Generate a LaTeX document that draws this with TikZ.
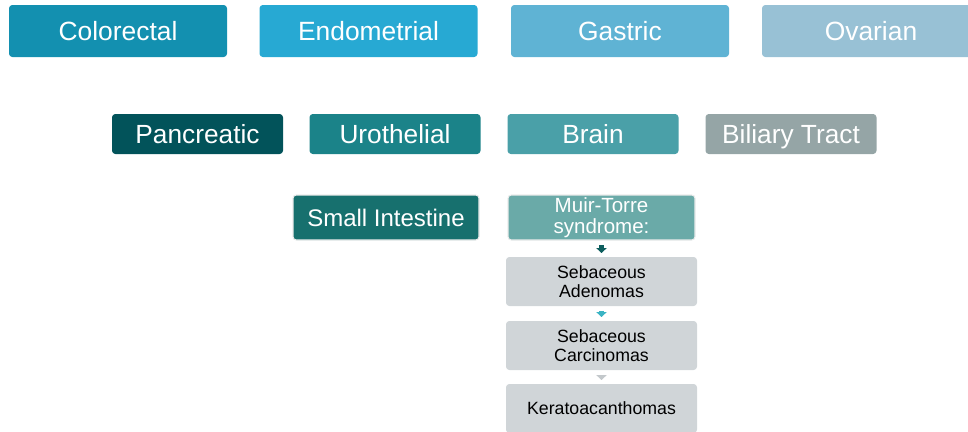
\documentclass[tikz,border=0pt]{standalone}
\usepackage{fontspec}
\setmainfont{Liberation Sans}
\usepackage{tikz}
\usetikzlibrary{arrows.meta}
\definecolor{colblue}{HTML}{1390B0}
\definecolor{endblue}{HTML}{27A9D3}
\definecolor{gasblue}{HTML}{5FB3D4}
\definecolor{ovablue}{HTML}{98C1D5}
\definecolor{panteal}{HTML}{02535A}
\definecolor{uroteal}{HTML}{1B8389}
\definecolor{braiteal}{HTML}{4AA0A8}
\definecolor{bilgray}{HTML}{95A5A6}
\definecolor{smiteal}{HTML}{17706E}
\definecolor{mtteal}{HTML}{6AAAA8}
\definecolor{sebgray}{HTML}{D0D5D8}
\definecolor{arrdark}{HTML}{0E5E5E}
\definecolor{arrlight}{HTML}{3BB4C4}
\definecolor{arrgray}{HTML}{C3C8CB}

\begin{document}
\begin{tikzpicture}[x=0.75pt,y=-0.75pt,
  site/.style={rounded corners=2.5pt,inner sep=0pt,text=white,align=center},
  toprow/.style={site,minimum width=163.5pt,minimum height=39pt,text height=14.2pt,text depth=0pt,
    font=\fontsize{19.8}{22}\selectfont},
  midrow/.style={site,minimum width=128.25pt,minimum height=30pt,text height=14.1pt,text depth=0pt,
    font=\fontsize{19.7}{22}\selectfont},
  framed/.style={draw=black!8,line width=0.8pt},
  lesion/.style={rounded corners=2.5pt,inner sep=0pt,fill=sebgray,text=black,align=center,
    minimum width=143.25pt,minimum height=36.75pt,font=\fontsize{13.3}{14.5}\selectfont},
  pointer/.style={line width=4pt,-{Triangle[length=3.6pt,width=7.5pt]},shorten <=3.4pt,shorten >=2.8pt}]
  \useasboundingbox (0,0) rectangle (968,432);
  % first row
  \node[toprow,fill=colblue] (colorectal) at (118,31) {Colorectal};
  \node[toprow,fill=endblue] (endometrial) at (368.5,31) {Endometrial};
  \node[toprow,fill=gasblue] (gastric) at (620,31) {Gastric};
  \node[toprow,fill=ovablue] (ovarian) at (871,31) {Ovarian};
  % second row
  \node[midrow,fill=panteal] (pancreatic) at (197.5,134) {Pancreatic};
  \node[midrow,fill=uroteal] (urothelial) at (395,134) {Urothelial};
  \node[midrow,fill=braiteal] (brain) at (593,134) {Brain};
  \node[midrow,fill=bilgray] (biliary) at (791,134) {Biliary Tract};
  % third row
  \node[site,framed,fill=smiteal,minimum width=139.5pt,minimum height=33.75pt,
    text height=12.9pt,text depth=0pt,font=\fontsize{18}{20}\selectfont] (smallint) at (386,217.5) {Small Intestine};
  \node[site,framed,fill=mtteal,minimum width=140.25pt,minimum height=33.75pt,
    font=\fontsize{15.4}{15.6}\selectfont] (muirtorre) at (601.5,217.5) {Muir-Torre\\syndrome:};
  % Muir-Torre lesions
  \node[lesion] (adenomas) at (601.5,281.5) {Sebaceous\\Adenomas};
  \node[lesion] (carcinomas) at (601.5,345.5) {Sebaceous\\Carcinomas};
  \node[lesion] (kerato) at (601.5,408.5) {Keratoacanthomas};
  \draw[pointer,arrdark] (muirtorre) -- (adenomas);
  \draw[pointer,arrlight] (adenomas) -- (carcinomas);
  \draw[pointer,arrgray] (carcinomas) -- (kerato);
\end{tikzpicture}
\end{document}
